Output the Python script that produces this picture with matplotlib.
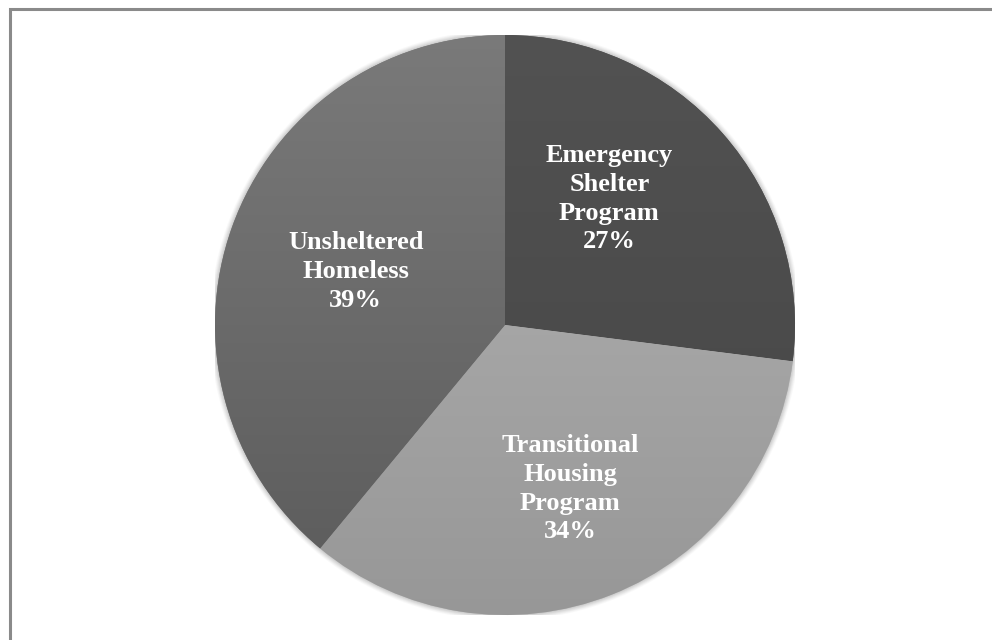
import numpy as np
import matplotlib
matplotlib.use("Agg")
import matplotlib.pyplot as plt
from matplotlib.patches import Rectangle, Circle

categories = ["Emergency\nShelter\nProgram", "Transitional\nHousing\nProgram", "Unsheltered\nHomeless"]
values = [27, 34, 39]
# gradient colours (top, bottom) for each slice
top_colors = ["#525252", "#b4b4b4", "#7a7a7a"]
bot_colors = ["#454545", "#979797", "#5a5a5a"]
label_pos = [(0.36, 0.435), (0.225, -0.565), (-0.515, 0.185)]

fig = plt.figure(figsize=(9.92, 6.4), dpi=100)
fig.patch.set_facecolor("white")

# outer frame
fig.patches.append(Rectangle((9.5 / 992, -0.05), 1.2, 1 - 8.5 / 640 + 0.05,
                             transform=fig.transFigure, fill=False,
                             edgecolor="#8a8a8a", linewidth=2.2))

cx, cy, r = 505, 325, 290
ax = fig.add_axes([(cx - r) / 992, (640 - cy - r) / 640, 2 * r / 992, 2 * r / 640])
ax.axis("off")

# soft edge around pie
for i, rr in enumerate(np.linspace(1.018, 1.002, 6)):
    ax.add_patch(Circle((0, 0), rr, facecolor="#9a9a9a", edgecolor="none", alpha=0.06 + 0.02 * i, zorder=0))

wedges, _ = ax.pie(values, startangle=90, counterclock=False, radius=1,
                   colors=top_colors, wedgeprops=dict(linewidth=0))

for w, tc, bc in zip(wedges, top_colors, bot_colors):
    t = np.array(matplotlib.colors.to_rgb(tc))
    b = np.array(matplotlib.colors.to_rgb(bc))
    f = np.linspace(0, 1, 256)[:, None]
    grad = (t * (1 - f) + b * f)[:, None, :].repeat(2, axis=1)
    im = ax.imshow(grad, extent=(-1.02, 1.02, -1.02, 1.02), origin="upper",
                   aspect="auto", zorder=2, interpolation="bilinear")
    im.set_clip_path(w)

for txt, v, (x, y) in zip(categories, values, label_pos):
    ax.text(x, y, f"{txt}\n{v}%", ha="center", va="center", color="white",
            fontsize=19, fontweight="bold", family="Liberation Serif",
            linespacing=1.32, zorder=5)

ax.set_xlim(-1, 1)
ax.set_ylim(-1, 1)
fig.savefig("out.png", dpi=100, facecolor="white")
